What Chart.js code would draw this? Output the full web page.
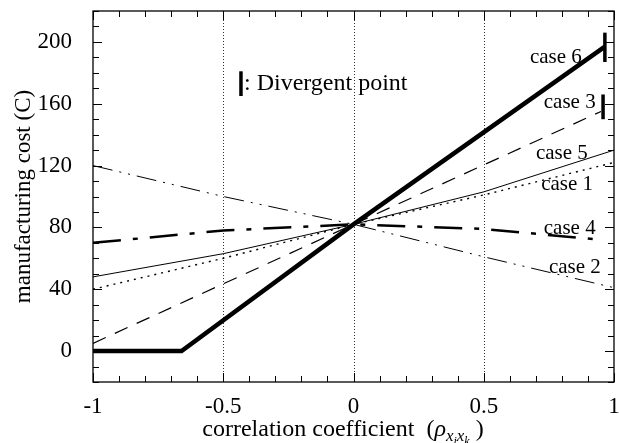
<!DOCTYPE html>
<html lang="en">
<head>
    <meta charset="UTF-8">
    <title>manufacturing cost vs correlation</title>
    <script src="https://cdn.jsdelivr.net/npm/chart.js"></script>
<style>
    body{ margin:0; background:#fff; }
    #wrap{ width:619px; height:443px; }
</style>
</head>
<body>
    <div id="wrap"><canvas id="costChart" width="619" height="443"></canvas></div>
    <script>
        // values
        var xTickLabels = [-1, -0.5, 0, 0.5, 1];
        var yTickLabels = [0, 40, 80, 120, 160, 200];

        var case1X = [-1, -0.5, 0, 0.5, 1];
        var case1Y = [40, 60, 82, 101, 122];
        var case2X = [-1, -0.5, 0, 0.5, 1];
        var case2Y = [120, 100, 82, 61, 41];
        var case3X = [-1, 0, 0.95];
        var case3Y = [5, 82, 155];
        var case4X = [-1, -0.5, 0, 0.5, 0.95];
        var case4Y = [70, 78, 82, 79, 72];
        var case5X = [-1, -0.5, 0, 0.5, 1];
        var case5Y = [48, 63, 82, 103, 130];
        var case6X = [-1, -0.66, 0, 0.965];
        var case6Y = [0, 0, 82, 197];

        // divergent point bars
        var div6X = [0.965, 0.965];
        var div6Y = [187, 206];
        var div3X = [0.958, 0.958];
        var div3Y = [150, 166];
        var keyBarX = [-0.432, -0.432];
        var keyBarY = [165, 181];

        var caseNames = ['case 6', 'case 3', 'case 5', 'case 1', 'case 4', 'case 2'];
        var caseLabelX = [0.777, 0.83, 0.80, 0.82, 0.83, 0.85];
        var caseLabelY = [190, 161, 128, 108, 79, 54];

        var serif = '"Liberation Serif", "DejaVu Serif", serif';

        function pts(xs, ys) {
            return xs.map(function (x, i) { return {x: x, y: ys[i]}; });
        }
        function line(xs, ys, width, dash) {
            return {data: pts(xs, ys), borderColor: '#000', borderWidth: width, borderDash: dash,
                pointRadius: 0, fill: false, tension: 0, showLine: true};
        }

        var framePlugin = {
            id: 'frame',
            beforeDatasetsDraw: function (chart) {
                var ctx = chart.ctx, a = chart.chartArea;
                var xs = chart.scales.x, ys = chart.scales.y;
                ctx.save();
                // dotted verticals
                ctx.strokeStyle = '#333';
                ctx.lineWidth = 1;
                ctx.setLineDash([1, 2]);
                [-0.5, 0, 0.5].forEach(function (v) {
                    var px = Math.round(xs.getPixelForValue(v)) + 0.5;
                    ctx.beginPath(); ctx.moveTo(px, a.top); ctx.lineTo(px, a.bottom); ctx.stroke();
                });
                ctx.setLineDash([]);
                ctx.strokeStyle = '#000';
                ctx.lineWidth = 1.3;
                ctx.strokeRect(a.left, a.top, a.right - a.left, a.bottom - a.top);
                // inward ticks on all four sides
                ctx.lineWidth = 1;
                for (var i = 0; i <= 20; i++) {
                    var v = -1 + i * 0.1;
                    var px = Math.round(xs.getPixelForValue(v)) + 0.5;
                    var len = (i % 5 === 0) ? 9 : 6;
                    ctx.beginPath();
                    ctx.moveTo(px, a.bottom); ctx.lineTo(px, a.bottom - len);
                    ctx.moveTo(px, a.top); ctx.lineTo(px, a.top + len);
                    ctx.stroke();
                }
                for (var j = -20; j <= 220; j += 10) {
                    var py = Math.round(ys.getPixelForValue(j)) + 0.5;
                    var l2 = (j % 40 === 0) ? 9 : 6;
                    ctx.beginPath();
                    ctx.moveTo(a.left, py); ctx.lineTo(a.left + l2, py);
                    ctx.moveTo(a.right, py); ctx.lineTo(a.right - l2, py);
                    ctx.stroke();
                }
                ctx.restore();
            },
            afterDraw: function (chart) {
                var ctx = chart.ctx;
                var xs = chart.scales.x, ys = chart.scales.y;
                ctx.save();
                ctx.fillStyle = '#000';
                ctx.textBaseline = 'middle';
                ctx.textAlign = 'center';
                ctx.font = '21px ' + serif;
                caseNames.forEach(function (n, i) {
                    ctx.fillText(n, xs.getPixelForValue(caseLabelX[i]), ys.getPixelForValue(caseLabelY[i]));
                });
                ctx.textAlign = 'left';
                ctx.font = '24px ' + serif;
                ctx.fillText(': Divergent point', xs.getPixelForValue(keyBarX[0]) + 3, ys.getPixelForValue(173));

                // x axis title with subscripts
                var y0 = 430;
                var parts = [
                    {t: 'correlation coefficient  (', f: '24px ' + serif, dy: 0},
                    {t: '\u03C1', f: 'italic 24px ' + serif, dy: 0},
                    {t: 'x', f: 'italic 17px ' + serif, dy: 5},
                    {t: 'i', f: 'italic 12px ' + serif, dy: 9},
                    {t: 'x', f: 'italic 17px ' + serif, dy: 5},
                    {t: 'k', f: 'italic 12px ' + serif, dy: 9},
                    {t: ' )', f: '24px ' + serif, dy: 0}
                ];
                var total = 0;
                parts.forEach(function (p) { ctx.font = p.f; p.w = ctx.measureText(p.t).width; total += p.w; });
                var cx = 343 - total / 2;
                ctx.textBaseline = 'alphabetic';
                parts.forEach(function (p) {
                    ctx.font = p.f;
                    ctx.fillText(p.t, cx, y0 + 6 + p.dy);
                    cx += p.w;
                });
                ctx.restore();
            }
        };

        var ctx = document.getElementById('costChart').getContext('2d');
        var myChart = new Chart(ctx, {
            type: 'scatter',
            data: {
                datasets: [
                    line(case6X, case6Y, 4.5, []),
                    line(case3X, case3Y, 1.2, [14, 10]),
                    line(case5X, case5Y, 1, []),
                    line(case1X, case1Y, 1.4, [2, 5]),
                    line(case4X, case4Y, 2.5, [28, 12, 5, 12]),
                    line(case2X, case2Y, 1, [20, 7, 2, 7, 2, 7]),
                    line(div6X, div6Y, 3.5, []),
                    line(div3X, div3Y, 3.5, []),
                    line(keyBarX, keyBarY, 3.5, [])
                ]
            },
            options: {
                responsive: false,
                animation: false,
                layout: {padding: {top: 11, right: 5, left: 0, bottom: 0}},
                plugins: {legend: {display: false}, tooltip: {enabled: false}},
                scales: {
                    x: {
                        type: 'linear', min: -1, max: 1,
                        afterBuildTicks: function (s) { s.ticks = xTickLabels.map(function (v) { return {value: v}; }); },
                        afterFit: function (s) { s.height = 61; s.paddingLeft = 0; s.paddingRight = 0; },
                        grid: {display: false},
                        border: {display: false},
                        ticks: {color: '#000', font: {family: serif, size: 23}, padding: 3, maxRotation: 0, autoSkip: false,
                            callback: function (v) { return String(v); }}
                    },
                    y: {
                        min: -20, max: 220,
                        afterBuildTicks: function (s) { s.ticks = yTickLabels.map(function (v) { return {value: v}; }); },
                        afterFit: function (s) { s.width = 93; s.paddingTop = 0; s.paddingBottom = 0; },
                        grid: {display: false},
                        border: {display: false},
                        title: {display: true, text: 'manufacturing cost (C)', color: '#000', font: {family: serif, size: 23}, padding: {top: 10, bottom: 0}},
                        ticks: {color: '#000', font: {family: serif, size: 23}, padding: 13,
                            callback: function (v) { return String(v); }}
                    }
                }
            },
            plugins: [framePlugin]
        });
    </script>
</body>
</html>
